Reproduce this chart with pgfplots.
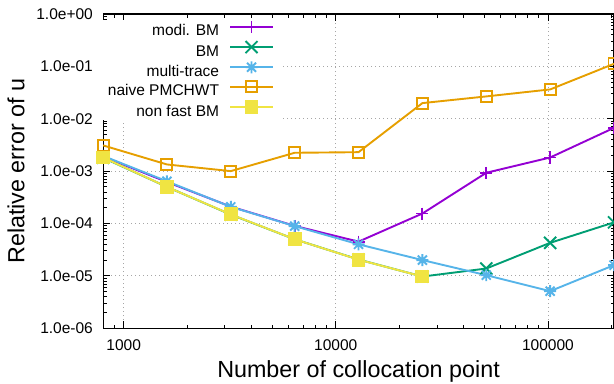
\documentclass[border=0pt]{standalone}
\usepackage{fontspec}
\setmainfont{Liberation Sans}
\usepackage{pgfplots}
\pgfplotsset{compat=1.18}
\definecolor{cmodi}{HTML}{9400D3}
\definecolor{cbm}{HTML}{009E73}
\definecolor{cmulti}{HTML}{56B4E9}
\definecolor{cnaive}{HTML}{E69F00}
\definecolor{cnonfast}{HTML}{F0E442}
\pgfdeclareplotmark{gpstar}{%
  \pgfpathmoveto{\pgfqpoint{-\pgfplotmarksize}{0pt}}\pgfpathlineto{\pgfqpoint{\pgfplotmarksize}{0pt}}%
  \pgfpathmoveto{\pgfqpoint{0pt}{-\pgfplotmarksize}}\pgfpathlineto{\pgfqpoint{0pt}{\pgfplotmarksize}}%
  \pgfpathmoveto{\pgfqpoint{-0.75\pgfplotmarksize}{-0.75\pgfplotmarksize}}\pgfpathlineto{\pgfqpoint{0.75\pgfplotmarksize}{0.75\pgfplotmarksize}}%
  \pgfpathmoveto{\pgfqpoint{-0.75\pgfplotmarksize}{0.75\pgfplotmarksize}}\pgfpathlineto{\pgfqpoint{0.75\pgfplotmarksize}{-0.75\pgfplotmarksize}}%
  \pgfusepathqstroke}
\begin{document}
\begin{tikzpicture}
\begin{axis}[
  name=ax,
  scale only axis,
  width=510.6pt, height=314pt,
  xmode=log, ymode=log,
  xmin=800, xmax=204800,
  ymin=1e-6, ymax=1,
  font=\fontsize{15.5}{18}\selectfont,
  /pgf/number format/assume math mode=true,
  xtick={1000,10000,100000},
  xticklabels={1000,10000,100000},
  ytick={1e-6,1e-5,1e-4,1e-3,1e-2,1e-1,1},
  yticklabels={1.0e-06,1.0e-05,1.0e-04,1.0e-03,1.0e-02,1.0e-01,1.0e+00},
  minor xtick={800,900,2000,3000,4000,5000,6000,7000,8000,9000,20000,30000,40000,50000,60000,70000,80000,90000,200000},
  minor ytick={2e-6,3e-6,4e-6,5e-6,6e-6,7e-6,8e-6,9e-6,
               2e-5,3e-5,4e-5,5e-5,6e-5,7e-5,8e-5,9e-5,
               2e-4,3e-4,4e-4,5e-4,6e-4,7e-4,8e-4,9e-4,
               2e-3,3e-3,4e-3,5e-3,6e-3,7e-3,8e-3,9e-3,
               2e-2,3e-2,4e-2,5e-2,6e-2,7e-2,8e-2,9e-2,
               2e-1,3e-1,4e-1,5e-1,6e-1,7e-1,8e-1,9e-1},
  tick align=inside,
  major tick length=7pt, minor tick length=3.5pt,
  tick style={black, line width=0.8pt},
  axis line style={black, line width=1.1pt},
  grid=major,
  major grid style={gray!70, line width=0.8pt, dash pattern=on 1pt off 3pt},
  yticklabel style={inner sep=0pt, xshift=-10pt},
  xticklabel style={inner sep=0pt, yshift=-11pt},
  xlabel={Number of collocation point},
  ylabel={Relative error of u},
  label style={font=\fontsize{23.3}{27}\selectfont},
  xlabel style={at={(rel axis cs:0.5,0)}, anchor=center, yshift=-43pt, inner sep=0pt},
  ylabel style={at={(rel axis cs:-0.1704,0.5)}, anchor=center, inner sep=0pt},
  legend cell align=right,
  legend plot pos=right,
  legend style={draw=none, fill=white, at={(rel axis cs:0,1)}, anchor=north east,
    xshift=180pt, yshift=-6.2pt, inner xsep=9pt, inner ysep=0.5pt, column sep=10pt, row sep=1.6pt,
    font=\fontsize{15.5}{18}\selectfont,
    nodes={inner sep=0pt, text height=11pt, text depth=3.5pt}},
  legend image code/.code={%
    \draw[mark repeat=2,mark phase=2,yshift=5.3pt]
      plot coordinates {(0pt,0pt) (21.5pt,0pt) (43pt,0pt)};},
  every axis plot/.append style={line width=1.9pt},
]
\addplot[color=cmodi, mark=+, mark size=6pt] coordinates {
  (800,1.9e-3) (1600,6.2e-4) (3200,2.1e-4) (6400,9.0e-5) (12800,4.5e-5)
  (25600,1.55e-4) (51200,9.3e-4) (102400,1.82e-3) (204800,6.7e-3)};
\addlegendentry{modi. BM}
\addplot[color=cbm, mark=x, mark size=8.5pt] coordinates {
  (800,1.8e-3) (1600,5.0e-4) (3200,1.48e-4) (6400,5.0e-5) (12800,2.05e-5)
  (25600,9.7e-6) (51200,1.38e-5) (102400,4.27e-5) (204800,1.05e-4)};
\addlegendentry{BM}
\addplot[color=cmulti, mark=gpstar, mark size=6pt] coordinates {
  (800,1.95e-3) (1600,6.4e-4) (3200,2.08e-4) (6400,8.9e-5) (12800,4.0e-5)
  (25600,2.0e-5) (51200,1.03e-5) (102400,5.1e-6) (204800,1.6e-5)};
\addlegendentry{multi-trace}
\addplot[color=cnaive, mark=square, mark size=5.5pt] coordinates {
  (800,3.1e-3) (1600,1.34e-3) (3200,1.0e-3) (6400,2.24e-3) (12800,2.3e-3)
  (25600,1.99e-2) (51200,2.67e-2) (102400,3.63e-2) (204800,1.12e-1)};
\addlegendentry{naive PMCHWT}
\addplot[color=cnonfast, mark=square*, mark size=6pt, mark options={fill=cnonfast}] coordinates {
  (800,1.82e-3) (1600,5.0e-4) (3200,1.49e-4) (6400,5.0e-5) (12800,2.04e-5)
  (25600,9.7e-6)};
\addlegendentry{non fast BM}
\end{axis}
\pgfresetboundingbox
\path ([xshift=-103pt,yshift=-55pt]ax.south west) rectangle ([yshift=14pt]ax.north east);
\end{tikzpicture}
\end{document}
